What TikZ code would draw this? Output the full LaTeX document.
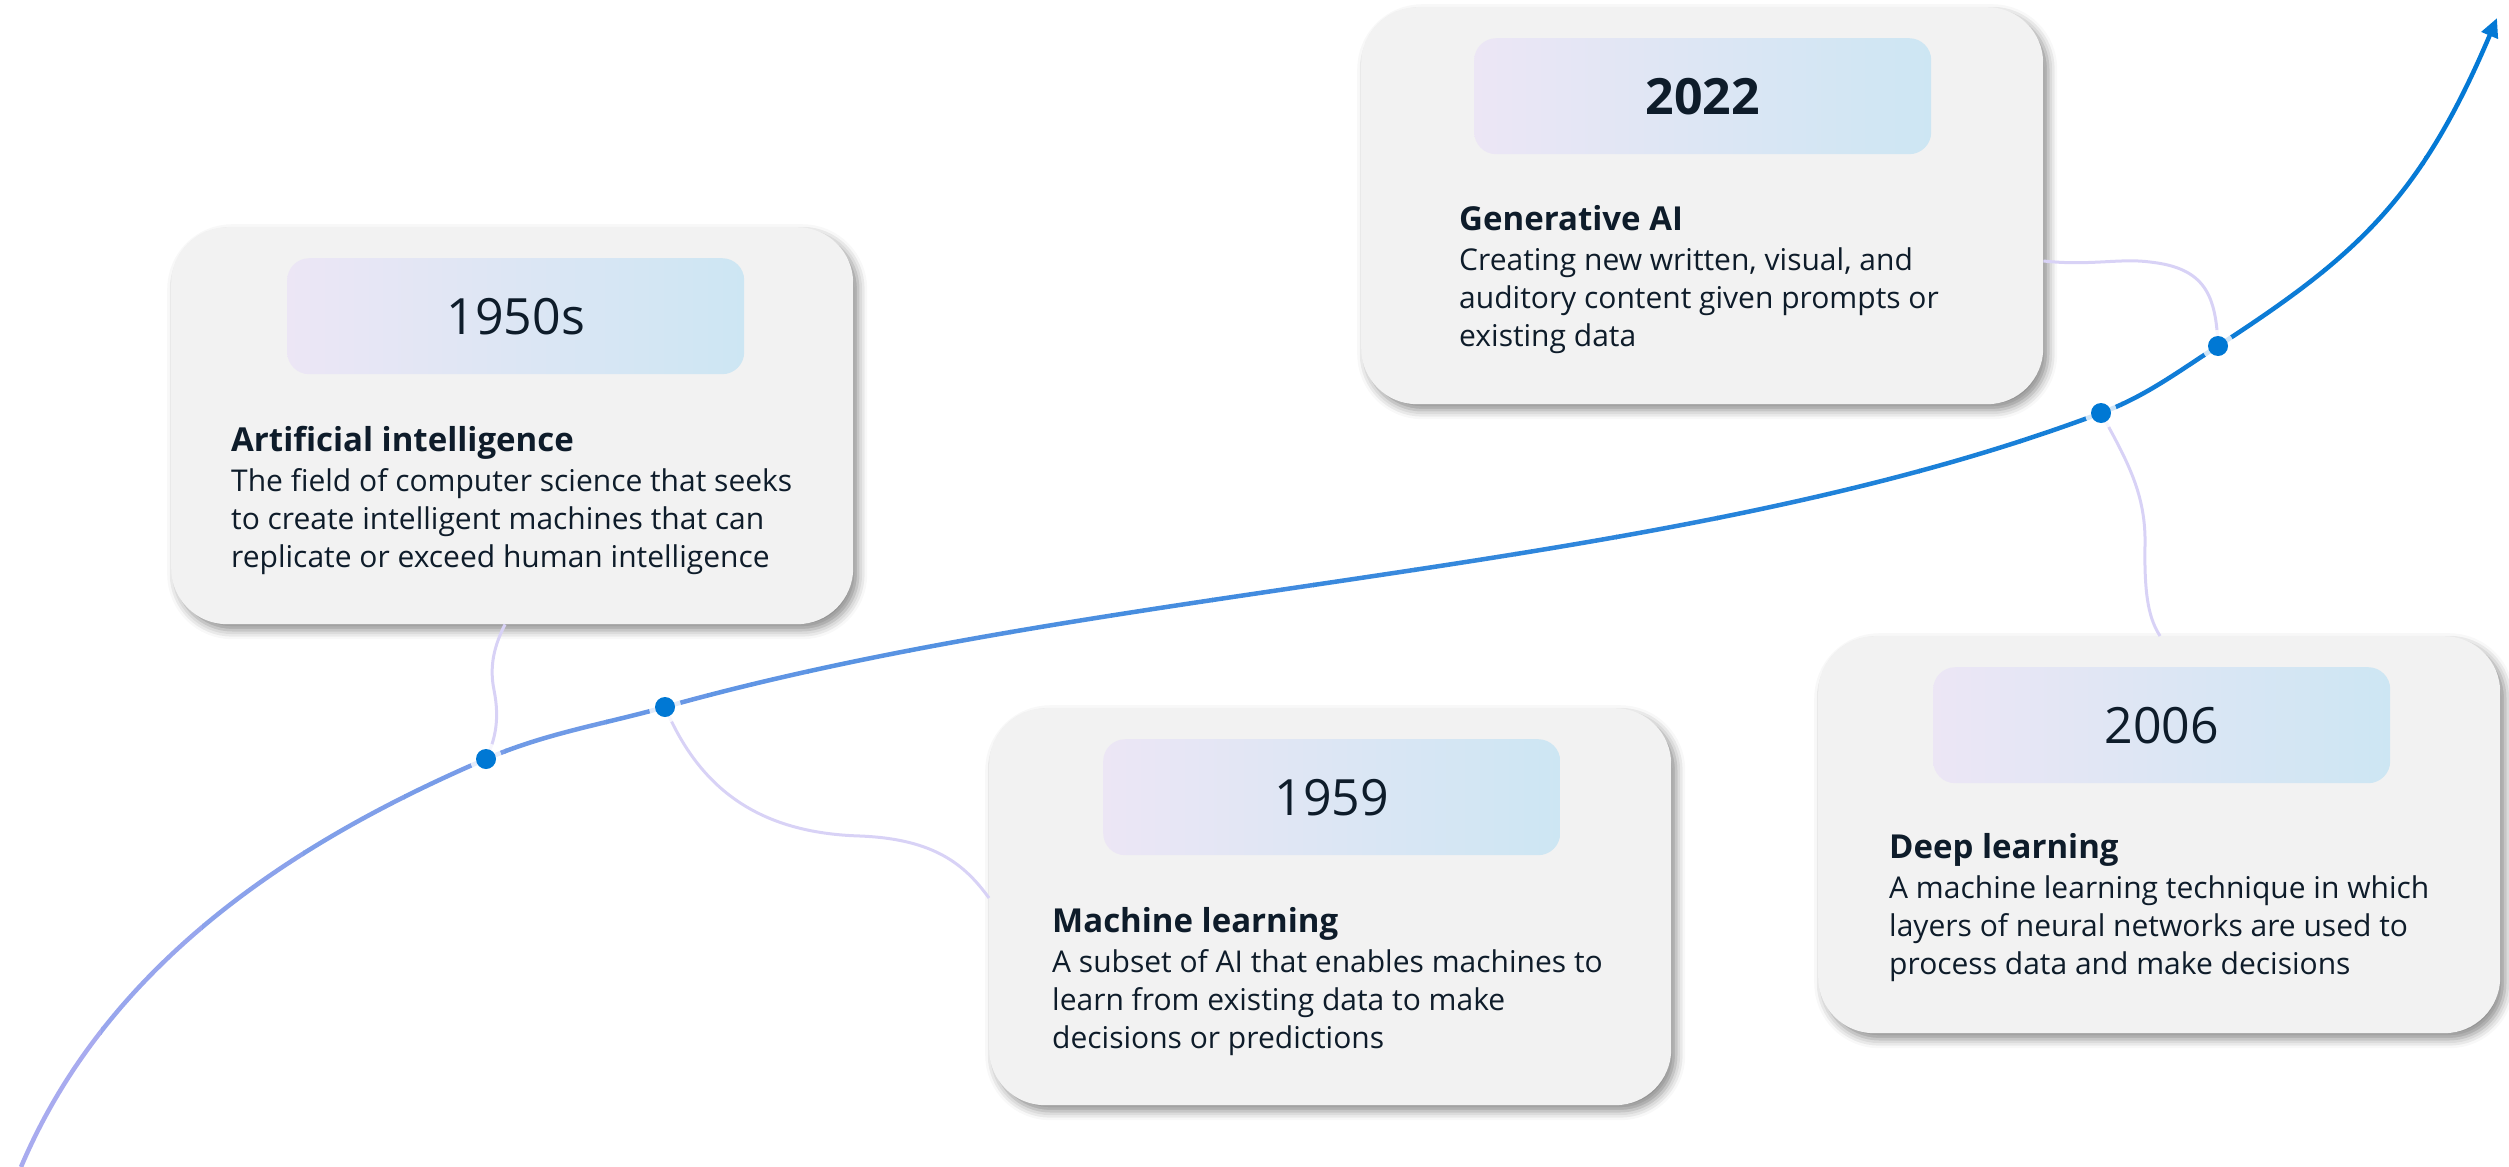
\documentclass[tikz,border=0pt]{standalone}
\usepackage{fontspec}
\setmainfont{Open Sans}
\usetikzlibrary{positioning, arrows.meta, calc, shadows.blur}
\definecolor{cardgrey}{HTML}{F2F2F2}
\definecolor{inkblue}{HTML}{0E1C2A}
\definecolor{trendblue}{HTML}{0078D4}
\definecolor{trendlav}{HTML}{B9B0F2}
\definecolor{linklav}{HTML}{D8D2F6}
\definecolor{yearlav}{HTML}{ECE6F5}
\definecolor{yearsky}{HTML}{CDE6F3}

\newcommand{\cardyear}{\fontsize{50}{60}\selectfont}
\newcommand{\cardtitle}{\fontsize{33}{38}\selectfont\bfseries}
\newcommand{\cardbody}{\fontsize{30}{38}\selectfont}
\newcommand{\trendcurve}{(21,1167) .. controls (115,945) and (326,828) .. (t1)
    .. controls (546,733) and (605,724) .. (t2)
    .. controls (1115,581) and (1671,575) .. (t3)
    .. controls (2146,396) and (2176,373) .. (t4)
    .. controls (2355,257) and (2420,200) .. (2497,18)}

\begin{document}
\begin{tikzpicture}[x=1pt, y=-1pt,
        card/.style={anchor=north west, inner sep=0pt, minimum width=682pt, minimum height=397pt, rounded corners=56pt, fill=cardgrey,
            blur shadow={shadow xshift=5pt, shadow yshift=-6pt, shadow blur radius=9pt, shadow opacity=45}},
        yearbox/.style={inner sep=0pt, minimum width=457pt, minimum height=116pt, rounded corners=22pt, left color=yearlav, right color=yearsky, text=inkblue, font=\cardyear},
        blurb/.style={anchor=base west, align=left, inner sep=0pt, text=inkblue, font=\cardbody},
        trend/.style={line width=4.5pt, -{Triangle[length=19pt, width=17pt]}},
        link/.style={draw=linklav, line width=3pt},
        halo/.style={circle, fill=white, fill opacity=0.8, minimum size=32pt, inner sep=0pt},
        dot/.style={circle, fill=trendblue, minimum size=20pt, inner sep=0pt}
    ]
      \useasboundingbox (0,0) rectangle (2509,1167);

      % Timeline points
      \coordinate (t1) at (486,759);
      \coordinate (t2) at (665,707);
      \coordinate (t3) at (2101,413);
      \coordinate (t4) at (2218,346);

      % Timeline, lavender to blue
      \foreach \i in {0,...,24} {
        \pgfmathtruncatemacro{\mixpct}{100*((\i+0.5)/25)^0.6}
        \begin{scope}
          \clip ({\i*101},0) rectangle ({\i*101+102},1167);
          \draw[trend, trendblue!\mixpct!trendlav] \trendcurve;
        \end{scope}
      }

      % 1950s
      \node[card] (ai) at (171,227) {};
      \node[yearbox, below right=31pt and 116pt of ai.north west] (aiyear) {1950s};
      \node[blurb] (aitext) at ($(ai.north west)+(60,340)$) {{\cardtitle Artificial intelligence}\\[2pt]
        The field of computer science that seeks\\ to create intelligent machines that can\\ replicate or exceed human intelligence};

      % 1959
      \node[card] (ml) at (989,708) {};
      \node[yearbox, below right=31pt and 114pt of ml.north west] (mlyear) {1959};
      \node[blurb] (mltext) at ($(ml.north west)+(63,340)$) {{\cardtitle Machine learning}\\[2pt]
        A subset of AI that enables machines to\\ learn from existing data to make\\ decisions or predictions};

      % 2006
      \node[card] (dl) at (1818,636) {};
      \node[yearbox, below right=31pt and 115pt of dl.north west] (dlyear) {2006};
      \node[blurb] (dltext) at ($(dl.north west)+(71,338)$) {{\cardtitle Deep learning}\\[2pt]
        A machine learning technique in which\\ layers of neural networks are used to\\ process data and make decisions};

      % 2022
      \node[card] (gen) at (1361,7) {};
      \node[yearbox, below right=31pt and 113pt of gen.north west, font=\cardyear\bfseries] (genyear) {2022};
      \node[blurb] (gentext) at ($(gen.north west)+(98,339)$) {{\cardtitle Generative AI}\\[2pt]
        Creating new written, visual, and\\ auditory content given prompts or\\ existing data};

      % Links from cards to the timeline
      \coordinate (aiport) at ($(ai.south west)+(334,0)$);
      \coordinate (mlport) at ($(ml.north west)+(0,190)$);
      \coordinate (dlport) at ($(dl.north west)+(342,0)$);
      \coordinate (genport) at ($(gen.north east)+(0,254)$);
      \draw[link] (aiport) .. controls (492,650) and (490,670) .. (494,690) .. controls (500,720) and (495,740) .. (t1);
      \draw[link] (t2) .. controls (700,790) and (760,833) .. (860,836) .. controls (935,839) and (965,865) .. (mlport);
      \draw[link] (t3) .. controls (2128,462) and (2146,495) .. (2145,545) .. controls (2144,600) and (2150,620) .. (dlport);
      \draw[link] (genport) .. controls (2090,266) and (2120,258) .. (2150,262) .. controls (2205,268) and (2216,295) .. (t4);

      % Dots
      \foreach \t in {1,...,4} {
        \node[halo] at (t\t) {};
        \node[dot] (d\t) at (t\t) {};
      }
    \end{tikzpicture}
\end{document}
